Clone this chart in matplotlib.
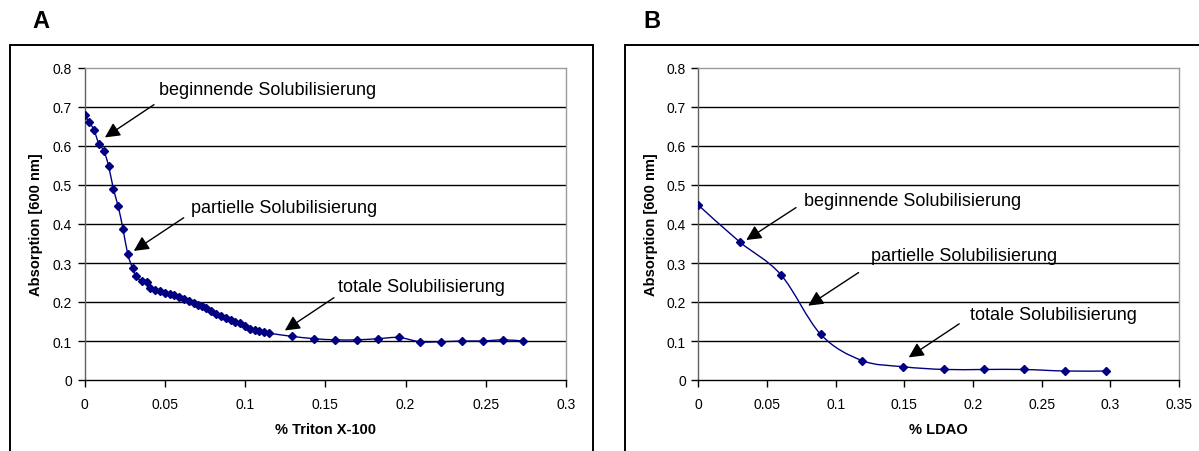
import matplotlib
matplotlib.use("Agg")
import matplotlib.pyplot as plt
from matplotlib.path import Path
from matplotlib.patches import PathPatch, Rectangle

plt.rcParams['font.family'] = ['Liberation Sans', 'DejaVu Sans']

# ---------------- data ----------------
triton_x = [0.000, 0.003, 0.006, 0.009, 0.012, 0.015, 0.018, 0.021, 0.024, 0.027,
            0.030, 0.032, 0.036, 0.039, 0.041, 0.044, 0.047, 0.050, 0.053, 0.056,
            0.059, 0.062, 0.065, 0.068, 0.071, 0.073, 0.076, 0.079, 0.082, 0.085,
            0.088, 0.091, 0.094, 0.097, 0.100, 0.103, 0.106, 0.109, 0.112, 0.115,
            0.129, 0.143, 0.156, 0.170, 0.183, 0.196, 0.209, 0.222, 0.235, 0.248,
            0.261, 0.273]
triton_y = [0.679, 0.661, 0.640, 0.605, 0.588, 0.549, 0.490, 0.445, 0.387, 0.322,
            0.286, 0.266, 0.253, 0.251, 0.236, 0.230, 0.229, 0.224, 0.221, 0.218,
            0.213, 0.207, 0.203, 0.198, 0.192, 0.190, 0.185, 0.178, 0.170, 0.164,
            0.159, 0.154, 0.148, 0.145, 0.139, 0.132, 0.127, 0.126, 0.122, 0.120,
            0.112, 0.106, 0.103, 0.103, 0.106, 0.109, 0.098, 0.098, 0.100, 0.100,
            0.103, 0.100]

ldao_x = [0.000, 0.030, 0.060, 0.089, 0.119, 0.149, 0.179, 0.208, 0.237, 0.267, 0.297]
ldao_y = [0.448, 0.354, 0.270, 0.117, 0.050, 0.034, 0.027, 0.027, 0.027, 0.023, 0.023]

labels = ["beginnende Solubilisierung", "partielle Solubilisierung", "totale Solubilisierung"]
y_ticks = [0, 0.1, 0.2, 0.3, 0.4, 0.5, 0.6, 0.7, 0.8]
y_tick_labels = ["0", "0.1", "0.2", "0.3", "0.4", "0.5", "0.6", "0.7", "0.8"]
xA_ticks = [0, 0.05, 0.1, 0.15, 0.2, 0.25, 0.3]
xA_tick_labels = ["0", "0.05", "0.1", "0.15", "0.2", "0.25", "0.3"]
xB_ticks = [0, 0.05, 0.1, 0.15, 0.2, 0.25, 0.3, 0.35]
xB_tick_labels = ["0", "0.05", "0.1", "0.15", "0.2", "0.25", "0.3", "0.35"]

NAVY = '#000080'


def smooth_path(xs, ys):
    """Catmull-Rom style bezier through the data points (Excel smoothed line)."""
    pts = list(zip(xs, ys))
    verts = [pts[0]]
    codes = [Path.MOVETO]
    n = len(pts)
    for i in range(n - 1):
        p0 = pts[i - 1] if i > 0 else pts[i]
        p1 = pts[i]
        p2 = pts[i + 1]
        p3 = pts[i + 2] if i + 2 < n else pts[i + 1]
        c1 = (p1[0] + (p2[0] - p0[0]) / 6.0, p1[1] + (p2[1] - p0[1]) / 6.0)
        c2 = (p2[0] - (p3[0] - p1[0]) / 6.0, p2[1] - (p3[1] - p1[1]) / 6.0)
        verts += [c1, c2, p2]
        codes += [Path.CURVE4] * 3
    return Path(verts, codes)


fig = plt.figure(figsize=(11.99, 4.52), dpi=100)

# outer chart borders
fig.patches.append(Rectangle((10.5 / 1199, -0.1), (593 - 10.5) / 1199, 0.1 + (1 - 46 / 452),
                             transform=fig.transFigure, fill=False, ec='black', lw=1.4))
fig.patches.append(Rectangle((625 / 1199, -0.1), 0.6, 0.1 + (1 - 46 / 452),
                             transform=fig.transFigure, fill=False, ec='black', lw=1.4))

axA = fig.add_axes([84.5 / 1199, 1 - 381 / 452, 481.5 / 1199, 312 / 452])
axB = fig.add_axes([698.5 / 1199, 1 - 381 / 452, 480.5 / 1199, 312 / 452])


def style(ax, xmax, xticks, xticklabels, xlabel):
    ax.set_xlim(0, xmax)
    ax.set_ylim(0, 0.8)
    ax.set_yticks(y_ticks)
    ax.set_yticklabels(y_tick_labels)
    ax.set_xticks(xticks)
    ax.set_xticklabels(xticklabels)
    for v in y_ticks[1:-1]:
        ax.axhline(v, color='black', lw=1.0, zorder=1)
    ax.spines['top'].set_color('#9a9a9a')
    ax.spines['right'].set_color('#9a9a9a')
    ax.spines['left'].set_color('#606060')
    ax.spines['bottom'].set_color('black')
    for s in ax.spines.values():
        s.set_linewidth(1.0)
    ax.tick_params(axis='both', direction='out', length=5, width=1.0, labelsize=10,
                   color='black')
    ax.tick_params(axis='y', pad=4)
    ax.tick_params(axis='x', pad=7.5)
    ax.set_xlabel(xlabel, fontsize=10.5, fontweight='bold', va='center')
    ax.xaxis.set_label_coords(0.5, -49 / 312)
    ax.set_ylabel("Absorption [600 nm]", fontsize=10.5, fontweight='bold', va='center')
    ax.yaxis.set_label_coords(-48 / 481.5, 0.5)


style(axA, 0.3, xA_ticks, xA_tick_labels, "% Triton X-100")
style(axB, 0.35, xB_ticks, xB_tick_labels, "% LDAO")

for ax, xs, ys in ((axA, triton_x, triton_y), (axB, ldao_x, ldao_y)):
    ax.add_patch(PathPatch(smooth_path(xs, ys), fill=False, ec=NAVY, lw=1.0, zorder=3))
    ax.plot(xs, ys, linestyle='none', marker='D', ms=4.4, color=NAVY, zorder=4)

arrow_kw = dict(arrowstyle='-|>,head_length=0.9,head_width=0.45', color='black', lw=1.0,
                shrinkA=0, shrinkB=0)

# Panel A annotations
a_text = [(0.0462, 0.745), (0.0666, 0.442), (0.158, 0.241)]
a_arrow = [((0.0433, 0.706), (0.0127, 0.622)),
           ((0.0618, 0.416), (0.0307, 0.331)),
           ((0.1554, 0.211), (0.1248, 0.127))]
# Panel B annotations
b_text = [(0.0771, 0.459), (0.126, 0.320), (0.1977, 0.169)]
b_arrow = [((0.071, 0.442), (0.0348, 0.359)),
           ((0.1166, 0.2755), (0.0799, 0.1906)),
           ((0.1899, 0.144), (0.1531, 0.058))]

for ax, tpos, apos in ((axA, a_text, a_arrow), (axB, b_text, b_arrow)):
    for lab, (tx, ty), (tail, tip) in zip(labels, tpos, apos):
        ax.text(tx, ty, lab, fontsize=13, ha='left', va='center', zorder=5)
        ax.annotate('', xy=tip, xytext=tail, arrowprops=arrow_kw, zorder=5)

fig.text(32 / 1199, 1 - 21 / 452, "A", fontsize=17, fontweight='bold', ha='left', va='center')
fig.text(643 / 1199, 1 - 21 / 452, "B", fontsize=17, fontweight='bold', ha='left', va='center')

fig.savefig("out.png", dpi=100)
